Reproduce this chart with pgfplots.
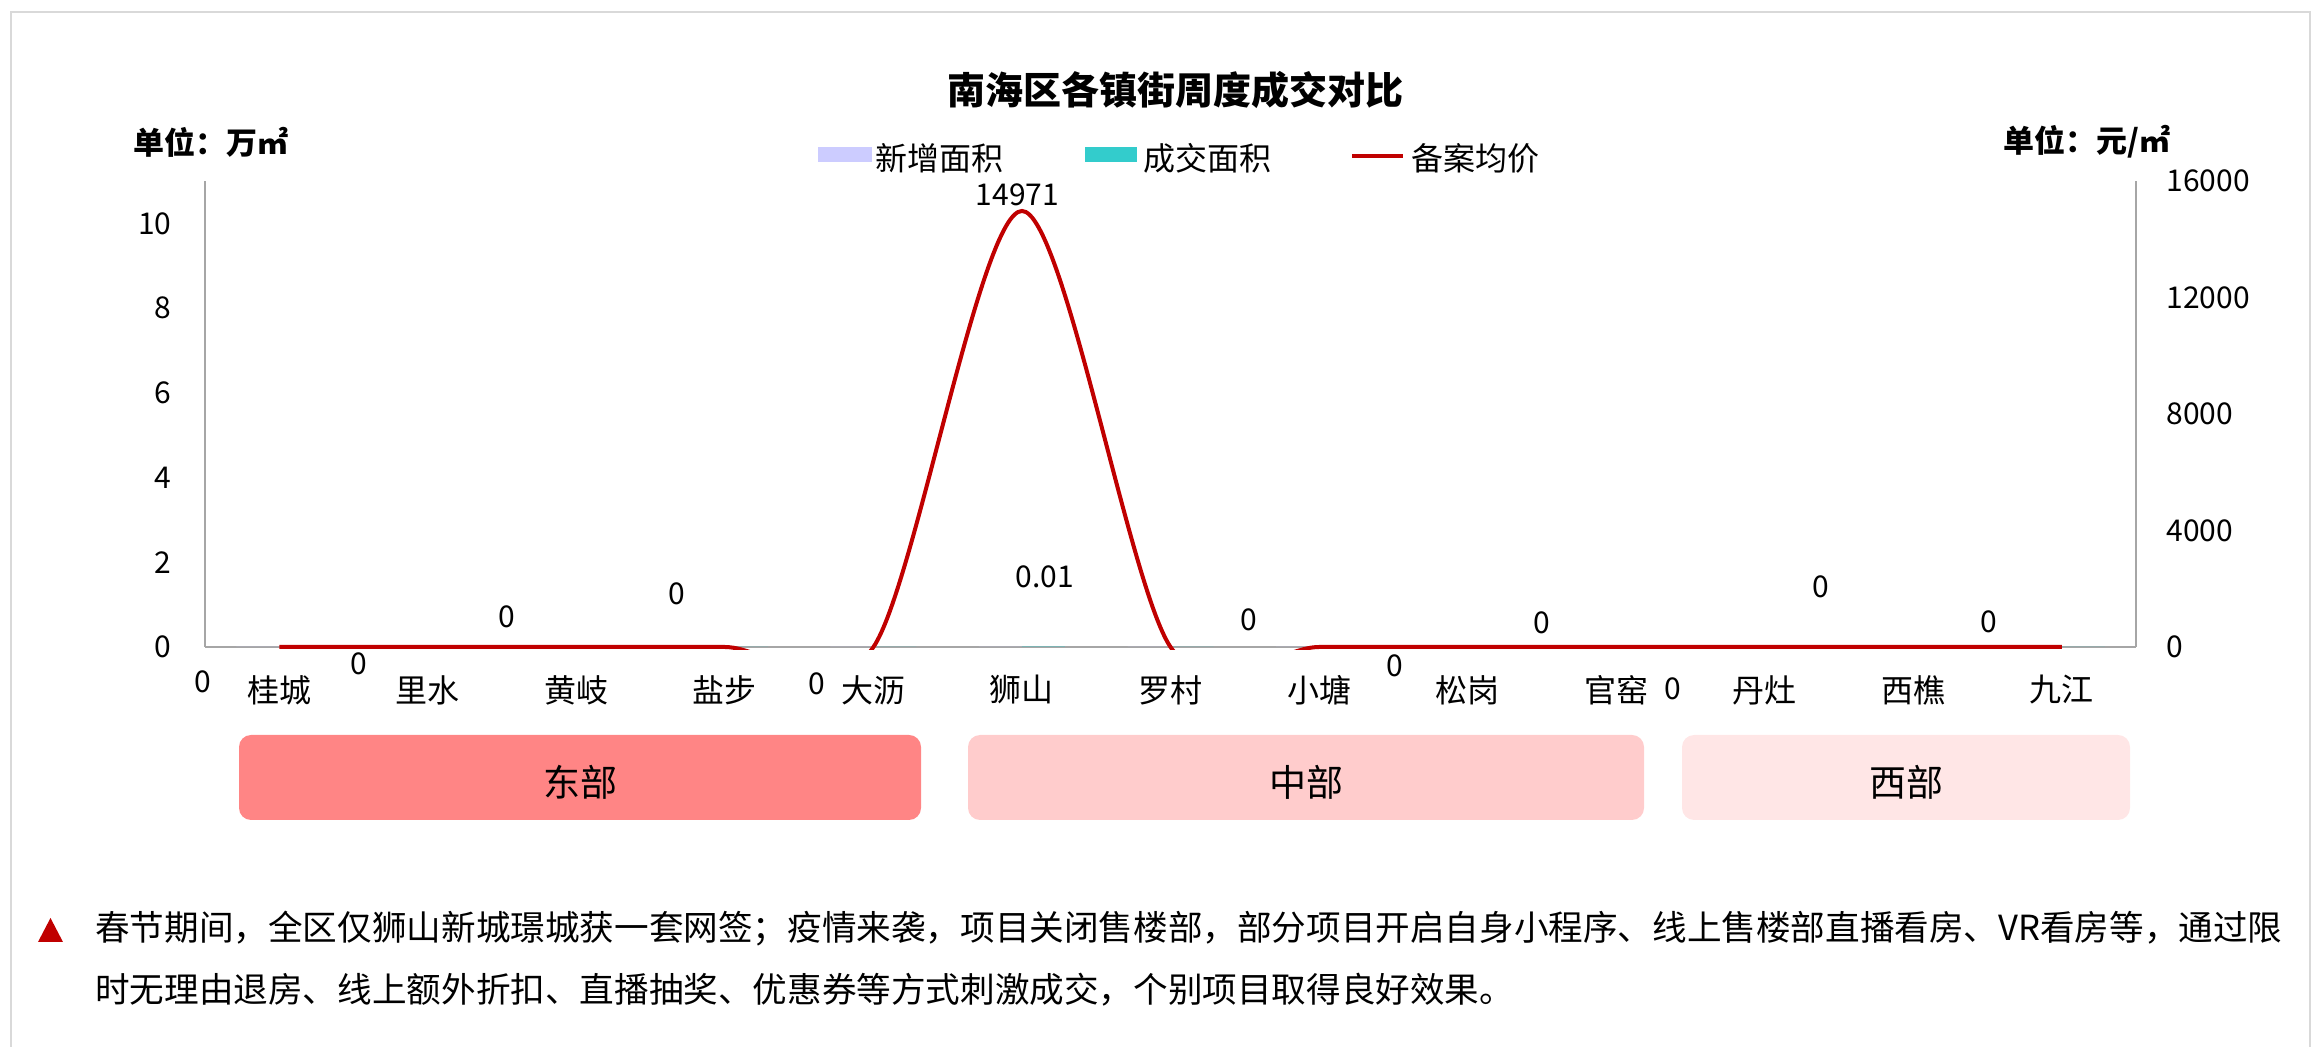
\documentclass[border=0pt]{standalone}
\usepackage{fontspec}
\setmainfont{Noto Sans CJK SC}
\usepackage{pgfplots}
\pgfplotsset{compat=1.18}
\definecolor{linered}{HTML}{C00000}
\definecolor{lav}{HTML}{CCCCFF}
\definecolor{tealb}{HTML}{33CCCC}
\definecolor{eastc}{HTML}{FF8585}
\definecolor{midc}{HTML}{FFCCCC}
\definecolor{westc}{HTML}{FFE6E6}
\definecolor{axgray}{HTML}{A6A6A6}
\definecolor{framegray}{HTML}{D9D9D9}
\begin{document}
\begin{tikzpicture}
\path[use as bounding box] (-102.5pt,-200pt) rectangle (1058pt,323.5pt);
% frame
\draw[framegray, line width=1.2pt] (-97pt,-210pt) -- (-97pt,317.5pt) -- (1052.5pt,317.5pt) -- (1052.5pt,-210pt);
% region boxes
\fill[eastc, rounded corners=6pt] (17pt,-44pt) rectangle (358pt,-86.5pt);
\fill[midc, rounded corners=6pt] (381.5pt,-44pt) rectangle (719.5pt,-86.5pt);
\fill[westc, rounded corners=6pt] (738.5pt,-44pt) rectangle (962.5pt,-86.5pt);
\node[font=\fontsize{18.5}{18.5}\selectfont] at (187.5pt,-67.5pt) {东部};
\node[font=\fontsize{18.5}{18.5}\selectfont] at (550.5pt,-67.5pt) {中部};
\node[font=\fontsize{18.5}{18.5}\selectfont] at (850.5pt,-67.5pt) {西部};

\begin{axis}[
  at={(0pt,0pt)}, anchor=south west, scale only axis,
  width=965.5pt, height=233pt,
  xmin=-0.5, xmax=12.5, ymin=0, ymax=11,
  axis x line*=bottom, axis y line*=left,
  axis line style={-, draw=axgray, line width=1pt},
  xtick={0,...,12},
  xticklabels={桂城,里水,黄岐,盐步,大沥,狮山,罗村,小塘,松岗,官窑,丹灶,西樵,九江},
  ytick={0,2,...,10},
  major tick length=0pt,
  tick style={draw=none},
  xticklabel style={anchor=center, inner sep=0pt, yshift=-21.5pt, font=\fontsize{16}{16}\selectfont},
  yticklabel style={anchor=east, inner sep=0pt, xshift=-16.5pt, font=\fontsize{15}{15}\selectfont},
  /pgf/number format/assume math mode=true,
  ybar=0pt, bar width=21.5pt,
  clip mode=individual,
]
\addplot[fill=lav, draw=none] coordinates {(0,0) (1,0) (2,0) (3,0) (4,0) (5,0) (6,0) (7,0) (8,0) (9,0) (10,0) (11,0) (12,0)};
\addplot[fill=tealb, draw=none] coordinates {(0,0) (1,0) (2,0) (3,0) (4,0) (5,0.01) (6,0) (7,0) (8,0) (9,0) (10,0) (11,0) (12,0)};
\draw[axgray, line width=1pt] (rel axis cs:1,0) -- (rel axis cs:1,1);
\begin{scope}[every node/.style={font=\fontsize{15}{15}\selectfont, inner sep=0pt}]
\node at (axis cs:-0.514,-0.83) {0};
\node at (axis cs:0.537,-0.40) {0};
\node at (axis cs:1.534,0.71) {0};
\node at (axis cs:2.678,1.25) {0};
\node at (axis cs:3.62,-0.87) {0};
\node at (axis cs:5.156,1.65) {0.01};
\node at (axis cs:6.53,0.64) {0};
\node at (axis cs:7.51,-0.45) {0};
\node at (axis cs:8.50,0.57) {0};
\node at (axis cs:9.38,-0.99) {0};
\node at (axis cs:10.38,1.42) {0};
\node at (axis cs:11.51,0.59) {0};
\node at (axis cs:4.97,10.67) {14971};
\end{scope}
\end{axis}

\begin{axis}[
  at={(0pt,-1.019pt)}, anchor=south west, scale only axis,
  width=965.5pt, height=234.019pt,
  xmin=-0.5, xmax=12.5, ymin=-70, ymax=16000,
  hide x axis,
  axis y line*=right,
  y axis line style={draw=none},
  ytick={0,4000,...,16000},
  scaled y ticks=false,
  major tick length=0pt,
  tick style={draw=none},
  yticklabel style={anchor=west, inner sep=0pt, xshift=15pt, font=\fontsize{15}{15}\selectfont},
  /pgf/number format/assume math mode=true,
  /pgf/number format/1000 sep={},
  /pgf/number format/fixed,
]
\addplot[linered, line width=2pt, smooth, mark=none] coordinates {(0,0) (1,0) (2,0) (3,0) (4,0) (5,14971) (6,0) (7,0) (8,0) (9,0) (10,0) (11,0) (12,0)};
\end{axis}

% title, units, legend
\node[font=\bfseries\fontsize{19}{19}\selectfont] at (485.25pt,278.5pt) {南海区各镇街周度成交对比};
\node[anchor=west, inner sep=0pt, font=\bfseries\fontsize{15.5}{15.5}\selectfont] at (-36pt,252.5pt) {单位：万㎡};
\node[anchor=west, inner sep=0pt, font=\bfseries\fontsize{15.5}{15.5}\selectfont] at (899pt,252.5pt) {单位：元/㎡};
\fill[lav] (306.5pt,242.5pt) rectangle (333.5pt,250pt);
\node[anchor=west, inner sep=0pt, font=\fontsize{16}{16}\selectfont] at (335pt,244.5pt) {新增面积};
\fill[tealb] (440pt,242.5pt) rectangle (466pt,250pt);
\node[anchor=west, inner sep=0pt, font=\fontsize{16}{16}\selectfont] at (469pt,244.5pt) {成交面积};
\draw[linered, line width=2pt] (573.5pt,245.5pt) -- (599pt,245.5pt);
\node[anchor=west, inner sep=0pt, font=\fontsize{16}{16}\selectfont] at (603pt,244.5pt) {备案均价};
% footnote
\fill[linered] (-83.5pt,-147.5pt) -- (-71pt,-147.5pt) -- (-77.25pt,-135.5pt) -- cycle;
\node[anchor=west, inner sep=0pt, font=\fontsize{17.3}{17.3}\selectfont] at (-55pt,-141pt) {春节期间，全区仅狮山新城璟城获一套网签；疫情来袭，项目关闭售楼部，部分项目开启自身小程序、线上售楼部直播看房、VR看房等，通过限};
\node[anchor=west, inner sep=0pt, font=\fontsize{17.3}{17.3}\selectfont] at (-55pt,-171.5pt) {时无理由退房、线上额外折扣、直播抽奖、优惠券等方式刺激成交，个别项目取得良好效果。};
\end{tikzpicture}
\end{document}
